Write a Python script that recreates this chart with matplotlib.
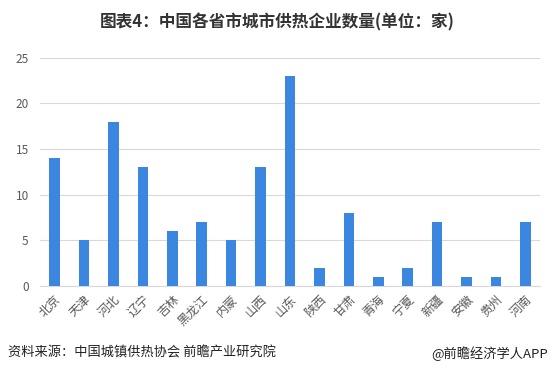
import matplotlib
matplotlib.use("Agg")
import matplotlib.pyplot as plt
import matplotlib.transforms as mtransforms

plt.rcParams['font.family'] = ['Noto Sans CJK SC', 'DejaVu Sans']

provinces = ["北京", "天津", "河北", "辽宁", "吉林", "黑龙江", "内蒙", "山西", "山东",
             "陕西", "甘肃", "青海", "宁夏", "新疆", "安徽", "贵州", "河南"]
counts = [14, 5, 18, 13, 6, 7, 5, 13, 23, 2, 8, 1, 2, 7, 1, 1, 7]
yticks = [0, 5, 10, 15, 20, 25]

fig = plt.figure(figsize=(5.54, 3.73), dpi=100)
ax = fig.add_axes([0.072, 0.233, 0.903, 0.612])

ax.bar(range(len(provinces)), counts, width=0.36, color='#3b87e0', zorder=3)

ax.set_xlim(-0.5, len(provinces) - 0.5)
ax.set_ylim(0, 25)
ax.set_yticks(yticks)
ax.yaxis.grid(True, color='#d9d9d9', linewidth=0.8, zorder=0)
ax.set_xticks(range(len(provinces)))
ax.set_xticklabels(provinces, rotation=45, ha='right', rotation_mode='anchor',
                   fontsize=8.8, color='#595959')
offset = mtransforms.ScaledTranslation(5 / 72, 0, fig.dpi_scale_trans)
for lbl in ax.get_xticklabels():
    lbl.set_transform(lbl.get_transform() + offset)
ax.tick_params(axis='y', labelsize=8.5, colors='#595959', length=0, pad=8)
ax.tick_params(axis='x', length=0, pad=5)
for s in ['top', 'right', 'left']:
    ax.spines[s].set_visible(False)
ax.spines['bottom'].set_color('#d9d9d9')

fig.text(0.5, 0.94, "图表4：中国各省市城市供热企业数量(单位：家)", ha='center', va='center',
         fontsize=12, fontweight='bold', color='#333333')
fig.text(0.014, 0.053, "资料来源：中国城镇供热协会 前瞻产业研究院", ha='left', va='center',
         fontsize=9.5, color='#222222')
fig.text(0.99, 0.053, "@前瞻经济学人APP", ha='right', va='center',
         fontsize=9.5, color='#222222')

fig.savefig("out.png", dpi=100)
